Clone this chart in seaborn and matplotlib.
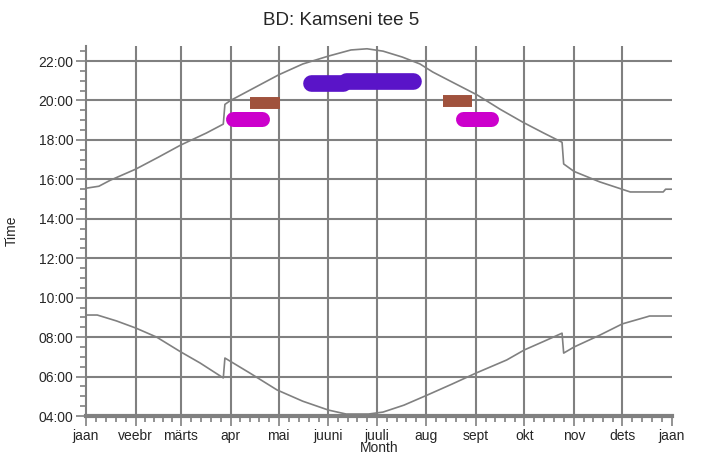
import numpy as np
import pandas as pd
import seaborn as sns
import matplotlib.pyplot as plt

# --- DATA ---
MONTHS = ["jaan", "veebr", "märts", "apr", "mai", "juuni", "juuli",
          "aug", "sept", "okt", "nov", "dets", "jaan"]
MONTH_START = [0, 31, 59, 90, 120, 151, 181, 212, 243, 273, 304, 334, 365]

HOUR_TICKS = [4, 6, 8, 10, 12, 14, 16, 18, 20, 22]
HOUR_LABELS = ["04:00", "06:00", "08:00", "10:00", "12:00",
               "14:00", "16:00", "18:00", "20:00", "22:00"]

# sunset (upper curve), day of year -> hour
sunset_day = [0, 8, 15, 31, 45, 59, 75, 85.5, 86.5, 90, 105, 120, 135,
              151, 165, 175, 185, 197, 208, 216, 230, 243.6, 258, 272,
              285, 296.5, 297.5, 304, 320, 339, 359.5, 361, 365]
sunset_hour = [15.55, 15.65, 15.95, 16.52, 17.12, 17.74, 18.35, 18.8, 19.8,
               20.0, 20.65, 21.3, 21.85, 22.25, 22.56, 22.62, 22.5, 22.2,
               21.85, 21.44, 20.85, 20.28, 19.55, 18.9, 18.35, 17.88,
               16.78, 16.4, 15.87, 15.36, 15.36, 15.5, 15.5]

# sunrise (lower curve), day of year -> hour
sunrise_day = [0, 7, 19, 31, 44, 59, 71, 85.5, 86.5, 102, 119, 135, 151,
               162, 176, 185, 198, 212.5, 228, 243, 262, 273, 285,
               296.5, 297.5, 304, 320, 334, 349, 351, 365]
sunrise_hour = [9.12, 9.12, 8.82, 8.46, 8.0, 7.25, 6.69, 5.93, 6.94, 6.18,
                5.32, 4.75, 4.3, 4.1, 4.1, 4.2, 4.55, 5.06, 5.62, 6.18,
                6.84, 7.35, 7.78, 8.2, 7.19, 7.5, 8.1, 8.67, 9.02, 9.07, 9.07]

# coloured sun-alignment periods
blob_start = [140, 162, 102, 222.5, 91.3, 234.6]
blob_end = [160, 203.5, 121, 240.5, 109.3, 252]
blob_hour = [20.88, 21.0, 19.87, 19.95, 19.04, 19.04]
blob_color = ["#5A14C8", "#5A14C8", "#A0523D", "#A0523D", "#CC00CC", "#CC00CC"]

GRAY = "#808080"

sns.set_style("white")
plt.rcParams['font.family'] = ['Liberation Sans', 'DejaVu Sans']

fig = plt.figure(figsize=(7.04, 4.63), dpi=100)
ax = fig.add_axes([0.1222, 0.1015, 0.8324, 0.7991])

# grid
for m in MONTH_START[1:-1]:
    ax.axvline(m, color=GRAY, lw=1.5, zorder=1)
for h in HOUR_TICKS[1:]:
    ax.axhline(h, color=GRAY, lw=1.5, zorder=1)

# sunrise / sunset curves
sun_df = pd.DataFrame({"day": sunset_day, "hour": sunset_hour})
rise_df = pd.DataFrame({"day": sunrise_day, "hour": sunrise_hour})
sns.lineplot(data=sun_df, x="day", y="hour", ax=ax, color=GRAY, lw=1.2,
             sort=False, estimator=None, zorder=2)
sns.lineplot(data=rise_df, x="day", y="hour", ax=ax, color=GRAY, lw=1.2,
             sort=False, estimator=None, zorder=2)

# blobs
widths = [12, 12, 8.6, 8.6, 10.8, 10.8]
caps = ["round", "round", "butt", "butt", "round", "round"]
for s, e, h, c, w, cap in zip(blob_start, blob_end, blob_hour, blob_color, widths, caps):
    bdf = pd.DataFrame({"day": [s, e], "hour": [h, h]})
    line = sns.lineplot(data=bdf, x="day", y="hour", ax=ax, color=c, lw=w,
                        estimator=None, zorder=3).lines[-1]
    line.set_solid_capstyle(cap)

ax.set_xlim(0, 365)
ax.set_ylim(4, 22.76)

ax.set_xticks(MONTH_START)
ax.set_xticklabels(MONTHS, fontsize=10)
minor_x = [MONTH_START[i] + k * (MONTH_START[i + 1] - MONTH_START[i]) / 5
           for i in range(12) for k in range(1, 5)]
ax.set_xticks(minor_x, minor=True)
ax.set_yticks(HOUR_TICKS)
ax.set_yticklabels(HOUR_LABELS, fontsize=10)
ax.set_yticks(np.arange(4, 22.8, 0.5), minor=True)

ax.tick_params(axis="both", which="major", length=7, width=1.2, color=GRAY,
               direction="out", pad=2)
ax.tick_params(axis="both", which="minor", length=4, width=1.2, color=GRAY,
               direction="out")
ax.tick_params(axis="x", which="both", bottom=True)
ax.tick_params(axis="y", which="both", left=True)

for side in ["top", "right"]:
    ax.spines[side].set_visible(False)
ax.spines["left"].set_color(GRAY)
ax.spines["left"].set_linewidth(1.5)
ax.spines["bottom"].set_color(GRAY)
ax.spines["bottom"].set_linewidth(3)

ax.set_xlabel("Month", fontsize=10, labelpad=-1)
ax.set_ylabel("Time", fontsize=10, labelpad=14)
fig.suptitle("BD: Kamseni tee 5", x=0.485, y=0.975, fontsize=13.5)

fig.savefig("out.png", dpi=100)
